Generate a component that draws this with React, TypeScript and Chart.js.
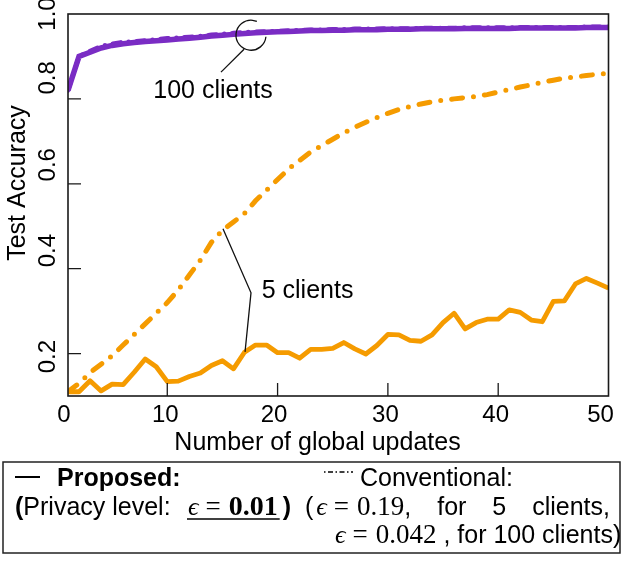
import React, { useEffect, useRef } from "react";
import { Chart, registerables } from "chart.js";

Chart.register(...registerables);

// ---------------- data ----------------
const updates = [
  1, 2, 3, 4, 5, 6, 7, 8, 9, 10, 11, 12, 13, 14, 15, 16, 17, 18, 19, 20, 21, 22, 23, 24, 25,
  26, 27, 28, 29, 30, 31, 32, 33, 34, 35, 36, 37, 38, 39, 40, 41, 42, 43, 44, 45, 46, 47, 48, 49, 50,
];

const proposed100 = [
  0.82, 0.9, 0.91, 0.92, 0.926, 0.93, 0.933, 0.935, 0.937, 0.939, 0.941, 0.943, 0.945, 0.948, 0.95,
  0.952, 0.954, 0.956, 0.957, 0.958, 0.959, 0.96, 0.961, 0.961, 0.962, 0.962, 0.963, 0.963, 0.963,
  0.964, 0.964, 0.964, 0.965, 0.965, 0.965, 0.965, 0.966, 0.966, 0.966, 0.966, 0.966, 0.967, 0.967,
  0.967, 0.967, 0.967, 0.967, 0.968, 0.968, 0.968,
];

const conventional100 = [
  0.82, 0.9, 0.913, 0.924, 0.93, 0.934, 0.935, 0.938, 0.94, 0.943, 0.944, 0.946, 0.948, 0.951, 0.953,
  0.955, 0.957, 0.958, 0.959, 0.96, 0.961, 0.962, 0.963, 0.963, 0.964, 0.964, 0.965, 0.965, 0.965,
  0.966, 0.966, 0.966, 0.967, 0.967, 0.967, 0.967, 0.968, 0.968, 0.968, 0.968, 0.968, 0.969, 0.969,
  0.969, 0.969, 0.969, 0.969, 0.97, 0.97, 0.97,
];

const proposed5 = [
  0.11, 0.11, 0.136, 0.112, 0.128, 0.127, 0.156, 0.187, 0.169, 0.134, 0.135, 0.146, 0.154, 0.172,
  0.183, 0.164, 0.203, 0.22, 0.22, 0.202, 0.202, 0.189, 0.21, 0.21, 0.212, 0.226, 0.211, 0.199,
  0.219, 0.245, 0.244, 0.231, 0.229, 0.244, 0.273, 0.295, 0.258, 0.273, 0.281, 0.281, 0.303, 0.297,
  0.279, 0.275, 0.323, 0.324, 0.364, 0.377, 0.366, 0.354,
];

const conventional5 = [
  0.11, 0.13, 0.155, 0.175, 0.195, 0.22, 0.245, 0.27, 0.295, 0.32, 0.35, 0.385, 0.42, 0.462, 0.49,
  0.51, 0.53, 0.56, 0.585, 0.61, 0.635, 0.655, 0.675, 0.69, 0.705, 0.72, 0.733, 0.745, 0.756, 0.766,
  0.775, 0.782, 0.788, 0.793, 0.797, 0.8, 0.803, 0.806, 0.81, 0.816, 0.822, 0.828, 0.833, 0.839,
  0.844, 0.849, 0.852, 0.855, 0.858, 0.86,
];

const xTickValues = [1, 10, 20, 30, 40, 50];
const xTickLabels = ["0", "10", "20", "30", "40", "50"];
const yTickValues = [0.2, 0.4, 0.6, 0.8, 1.0];
const yTickLabels = ["0.2", "0.4", "0.6", "0.8", "1.0"];

// ---------------- styles ----------------
const PURPLE = "#7a2cc4";
const ORANGE = "#f59b00";
const SANS = '"Liberation Sans", Arial, Helvetica, sans-serif';
const SERIF = '"Liberation Serif", "DejaVu Serif", "Times New Roman", serif';
const xTickShift = [-4, -2, -3.5, -2.5, -2.5, -8];
const yTickShift = [3, -18, -19, -21, 0];

const toXY = (vals: number[]) => updates.map((u, i) => ({ x: u, y: vals[i] }));

const overlay = {
  id: "overlay",
  afterDraw(chart: any) {
    const { ctx, chartArea: a, scales } = chart;
    const xs = scales.x;
    const ys = scales.y;
    const P = (xv: number, yv: number) => [xs.getPixelForValue(xv), ys.getPixelForValue(yv)];
    ctx.save();

    // frame
    ctx.strokeStyle = "#1a1a1a";
    ctx.lineWidth = 1.6;
    ctx.setLineDash([]);
    ctx.strokeRect(a.left, a.top, a.right - a.left, a.bottom - a.top);

    // inner ticks
    ctx.lineWidth = 1.3;
    ctx.beginPath();
    xTickValues.forEach((v) => {
      if (v === xs.min || v === xs.max) return;
      const px = xs.getPixelForValue(v);
      ctx.moveTo(px, a.bottom);
      ctx.lineTo(px, a.bottom - 13);
    });
    yTickValues.forEach((v) => {
      if (v === ys.max) return;
      const py = ys.getPixelForValue(v);
      ctx.moveTo(a.left, py);
      ctx.lineTo(a.left + 13, py);
    });
    ctx.stroke();

    // tick labels
    ctx.fillStyle = "#000";
    ctx.font = `24px ${SANS}`;
    ctx.textAlign = "center";
    ctx.textBaseline = "alphabetic";
    xTickValues.forEach((v, i) => {
      ctx.fillText(xTickLabels[i], xs.getPixelForValue(v) + xTickShift[i], a.bottom + 25.5);
    });
    yTickValues.forEach((v, i) => {
      ctx.save();
      ctx.translate(47, ys.getPixelForValue(v) + yTickShift[i]);
      ctx.rotate(-Math.PI / 2);
      ctx.textBaseline = "middle";
      ctx.fillText(yTickLabels[i], 0, 1);
      ctx.restore();
    });

    // axis titles
    ctx.font = `25px ${SANS}`;
    ctx.fillText("Number of global updates", 317.5, 450);
    ctx.save();
    ctx.translate(17, 183);
    ctx.rotate(-Math.PI / 2);
    ctx.textBaseline = "middle";
    ctx.fillText("Test Accuracy", 0, 1);
    ctx.restore();

    // annotations
    ctx.strokeStyle = "#111";
    ctx.lineWidth = 1.3;
    const [cx, cy] = P(17.59, 0.95);
    ctx.beginPath();
    ctx.arc(cx, cy, 15, (6 * Math.PI) / 180, (293 * Math.PI) / 180);
    ctx.stroke();
    const [x1, y1] = P(16.96, 0.917);
    const [x2, y2] = P(14.87, 0.863);
    ctx.beginPath();
    ctx.moveTo(x1, y1);
    ctx.lineTo(x2, y2);
    ctx.stroke();
    ctx.textAlign = "left";
    ctx.font = `25px ${SANS}`;
    const [tx, ty] = P(8.73, 0.801);
    ctx.fillText("100 clients", tx, ty);

    const pts = [P(15.05, 0.494), P(17.59, 0.343), P(17.05, 0.204)];
    ctx.beginPath();
    ctx.moveTo(pts[0][0], pts[0][1]);
    ctx.lineTo(pts[1][0], pts[1][1]);
    ctx.lineTo(pts[2][0], pts[2][1]);
    ctx.stroke();
    const [sx, sy] = P(18.56, 0.331);
    ctx.fillText("5 clients", sx, sy);

    // legend box
    ctx.lineWidth = 1.5;
    ctx.strokeStyle = "#222";
    ctx.strokeRect(3, 462, 617, 91);

    const L1 = 486;
    const L2 = 515;
    const L3 = 543;
    const draw = (s: string, x: number, y: number, font: string) => {
      ctx.font = font;
      ctx.fillText(s, x, y);
      return x + ctx.measureText(s).width;
    };
    const fSans = `25px ${SANS}`;
    const fBold = `bold 25px ${SANS}`;
    const fEps = `italic 26px ${SERIF}`;
    const fMath = `27px ${SERIF}`;
    const fMathB = `bold 28px ${SERIF}`;

    // line 1 left
    ctx.strokeStyle = "#000";
    ctx.lineWidth = 2;
    ctx.beginPath();
    ctx.moveTo(15, 477);
    ctx.lineTo(40, 477);
    ctx.stroke();
    draw("Proposed:", 57, L1, fBold);

    // line 1 right
    ctx.lineWidth = 1.4;
    ctx.setLineDash([1.5, 2.5, 5, 2.5]);
    ctx.beginPath();
    ctx.moveTo(324, 472);
    ctx.lineTo(353, 472);
    ctx.stroke();
    ctx.setLineDash([]);
    draw("Conventional:", 360, L1, fSans);

    // line 2 left
    let x = draw("(", 15, L2, fBold);
    x = draw("Privacy level: ", x, L2, fSans);
    const ux0 = 187;
    x = draw("\u03f5", 188, L2, fEps);
    x = draw("=", x + 7, L2, fMath);
    x = draw("0.01", x + 8, L2, fMathB);
    ctx.lineWidth = 1.4;
    ctx.beginPath();
    ctx.moveTo(ux0, L2 + 4);
    ctx.lineTo(x + 2, L2 + 4);
    ctx.stroke();
    draw(")", x + 5, L2, fBold);

    // line 2 right (justified to the column edge)
    x = draw("(", 305, L2, fSans);
    x = draw("\u03f5", x + 3, L2, fEps);
    x = draw("=", x + 7, L2, fMath);
    x = draw("0.19", x + 8, L2, fMath);
    x = draw(",", x, L2, fSans);
    const words = ["for", "5", "clients,"];
    ctx.font = fSans;
    const wsum = words.reduce((s, w) => s + ctx.measureText(w).width, 0);
    const gap = (610 - x - wsum) / words.length;
    words.forEach((w) => {
      x = draw(w, x + gap, L2, fSans);
    });

    // line 3 right
    x = draw("\u03f5", 335, L3, fEps);
    x = draw("=", x + 7, L3, fMath);
    x = draw("0.042", x + 8, L3, fMath);
    draw(" , for 100 clients)", x, L3, fSans);

    ctx.restore();
  },
};

export default function App() {
  const ref = useRef<HTMLCanvasElement | null>(null);
  useEffect(() => {
    if (!ref.current) return;
    const chart = new Chart(ref.current, {
      type: "line",
      data: {
        datasets: [
          {
            label: "Proposed (100 clients)",
            data: toXY(proposed100),
            borderColor: PURPLE,
            borderWidth: 5.5,
            pointRadius: 0,
            tension: 0,
            clip: 0,
          },
          {
            label: "Conventional (100 clients)",
            data: toXY(conventional100),
            borderColor: PURPLE,
            borderWidth: 4.5,
            borderDash: [8, 8, 0, 8],
            borderCapStyle: "round",
            pointRadius: 0,
            tension: 0,
            clip: 0,
          },
          {
            label: "Proposed (5 clients)",
            data: toXY(proposed5),
            borderColor: ORANGE,
            borderWidth: 4.8,
            borderJoinStyle: "round",
            pointRadius: 0,
            tension: 0,
            clip: 0,
          },
          {
            label: "Conventional (5 clients)",
            data: toXY(conventional5),
            borderColor: ORANGE,
            borderWidth: 5,
            borderDash: [11, 11, 0, 11],
            borderCapStyle: "round",
            pointRadius: 0,
            tension: 0,
            clip: 0,
          },
        ],
      },
      options: {
        animation: false,
        responsive: false,
        layout: { padding: { left: 68, right: 15.5, top: 14, bottom: 168 } },
        scales: {
          x: { type: "linear", min: 1, max: 50, display: false },
          y: { type: "linear", min: 0.1, max: 1.0, display: false },
        },
        plugins: { legend: { display: false }, tooltip: { enabled: false } },
      },
      plugins: [overlay],
    } as any);
    return () => chart.destroy();
  }, []);

  return (
    <div style={{ position: "absolute", left: 0, top: 0, width: 624, height: 564, background: "#fff" }}>
      <canvas ref={ref} width={624} height={564} style={{ display: "block" }} />
    </div>
  );
}
